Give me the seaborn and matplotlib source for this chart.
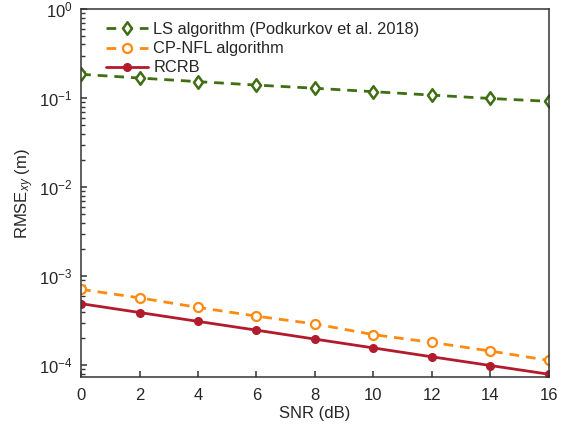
import numpy as np
import pandas as pd
import matplotlib
matplotlib.use("Agg")
import matplotlib.pyplot as plt
import matplotlib.ticker as mticker
from matplotlib.path import Path
import seaborn as sns

snr = [0, 2, 4, 6, 8, 10, 12, 14, 16]
ls_vals = [0.185, 0.168, 0.153, 0.140, 0.129, 0.118, 0.108, 0.099, 0.092]
cp_vals = [7.1e-4, 5.7e-4, 4.45e-4, 3.55e-4, 2.9e-4, 2.2e-4, 1.8e-4, 1.44e-4, 1.13e-4]
rcrb_vals = [4.9e-4, 3.9e-4, 3.1e-4, 2.47e-4, 1.96e-4, 1.56e-4, 1.24e-4, 9.9e-5, 7.9e-5]
labels = ["LS algorithm (Podkurkov et al. 2018)", "CP-NFL algorithm", "RCRB"]

sns.set_style("ticks")
plt.rcParams["font.family"] = ["Liberation Sans", "DejaVu Sans"]
plt.rcParams["mathtext.fontset"] = "custom"
plt.rcParams["mathtext.rm"] = "Liberation Sans"
plt.rcParams["mathtext.it"] = "Liberation Sans:italic"
plt.rcParams["font.size"] = 12

df = pd.DataFrame({
    "snr": snr * 3,
    "rmse": ls_vals + cp_vals + rcrb_vals,
    "method": [labels[0]] * 9 + [labels[1]] * 9 + [labels[2]] * 9,
})

colors = {labels[0]: "#3f6e13", labels[1]: "#ff8a12", labels[2]: "#b11b2c"}
diamond = Path([(0, 1), (0.72, 0), (0, -1), (-0.72, 0), (0, 1)],
               [Path.MOVETO, Path.LINETO, Path.LINETO, Path.LINETO, Path.CLOSEPOLY])

fig = plt.figure(figsize=(5.67, 4.32), dpi=100)
ax = fig.add_axes([0.143, 0.127, 0.825, 0.852])

styles = [
    dict(ls=(0, (3.5, 2.5)), marker=diamond, ms=9, mfc="white", mew=1.8),
    dict(ls=(0, (3.5, 2.5)), marker="o", ms=6.5, mfc="white", mew=1.6),
    dict(ls="-", marker="o", ms=5.5, mfc=None, mew=1),
]
for lab, st in zip(labels, styles):
    sub = df[df["method"] == lab]
    kw = dict(linestyle=st["ls"], marker=st["marker"], markersize=st["ms"],
              markeredgewidth=st["mew"], markeredgecolor=colors[lab])
    if st["mfc"] is not None:
        kw["markerfacecolor"] = st["mfc"]
    sns.lineplot(data=sub, x="snr", y="rmse", ax=ax, color=colors[lab],
                 linewidth=2, label=lab, **kw)

ax.set_yscale("log")
ax.set_xlim(0, 16)
ax.set_ylim(7.33e-5, 1.0)
ax.set_xticks(snr)
ax.yaxis.set_major_locator(mticker.LogLocator(base=10, numticks=10))
ax.yaxis.set_minor_locator(mticker.LogLocator(base=10, subs=np.arange(2, 10), numticks=20))
ax.yaxis.set_minor_formatter(mticker.NullFormatter())
ax.set_xlabel("SNR (dB)", fontsize=12, labelpad=2)
ax.set_ylabel(r"RMSE$_{xy}$ (m)", fontsize=12, labelpad=2)
ax.tick_params(axis="both", which="both", direction="in", labelsize=12,
               color="#333333", bottom=True, left=True, top=False, right=False)
ax.tick_params(axis="x", which="major", pad=8, length=4.5, width=1.1)
ax.tick_params(axis="y", which="major", pad=6, length=4.5, width=1.1)
ax.tick_params(axis="y", which="minor", length=3, width=1.0)
for s in ax.spines.values():
    s.set_color("#333333")
    s.set_linewidth(1.1)
leg = ax.legend(loc="upper left", frameon=False, fontsize=11.8, handlelength=2.6,
                handletextpad=0.3, borderaxespad=0.3, borderpad=0.5,
                labelspacing=0.25, bbox_to_anchor=(0.025, 1.0))

fig.savefig("out.png", dpi=100)
